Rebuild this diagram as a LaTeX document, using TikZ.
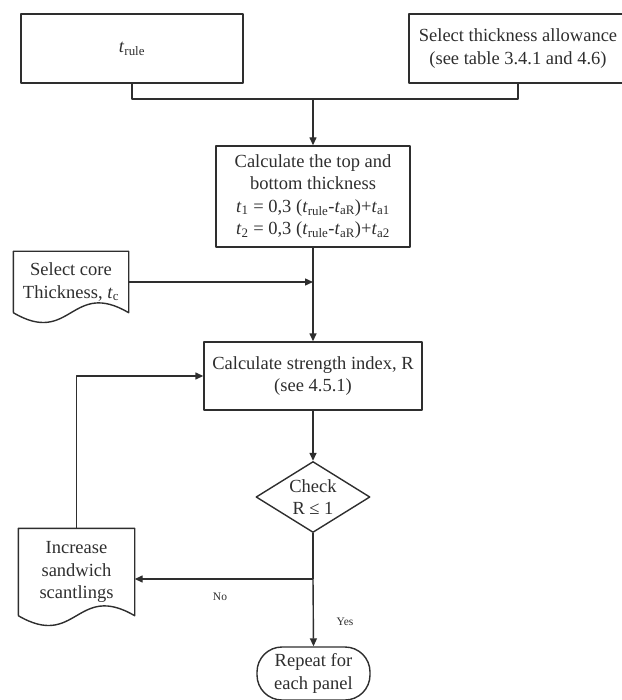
\documentclass[tikz,border=0pt]{standalone}
\usepackage{fontspec}
\setmainfont{Liberation Serif}
\usetikzlibrary{arrows.meta,shapes.geometric}
\definecolor{ink}{HTML}{2E2E2E}

\begin{document}
\begin{tikzpicture}[x=1pt, y=-1pt, line width=1.4pt, line join=round, color=ink,
  font=\fontsize{18.5}{22.5}\selectfont,
  box/.style={draw, align=center, inner sep=0pt},
  docbox/.style={align=center, inner sep=0pt},
  decide/.style={draw, diamond, aspect=1.6, align=center, inner sep=0pt},
  flow/.style={-{Triangle[length=8pt,width=7pt]}},
  tag/.style={font=\fontsize{11.5}{13}\selectfont}]

  % ── 顶部两个输入框 ──
  \node[box, minimum width=222pt, minimum height=69pt] (trule) at (132,48.5) {\textit{t}\textsubscript{rule}};
  \node[box, minimum width=218pt, minimum height=69pt] (allow) at (518,48.5)
    {Select thickness allowance\\(see table 3.4.1 and 4.6)};

  % ── 主干计算框 ──
  \node[box, minimum width=194pt, minimum height=101pt] (calc) at (313,196.5)
    {Calculate the top and\\bottom thickness\\
     \textit{t}\textsubscript{1} = 0,3 (\textit{t}\textsubscript{rule}-\textit{t}\textsubscript{aR})+\textit{t}\textsubscript{a1}\\
     \textit{t}\textsubscript{2} = 0,3 (\textit{t}\textsubscript{rule}-\textit{t}\textsubscript{aR})+\textit{t}\textsubscript{a2}};
  \node[box, minimum width=218pt, minimum height=68pt] (strength) at (313,376)
    {Calculate strength index, R\\(see 4.5.1)};
  \node[decide, minimum width=114pt, minimum height=71pt] (check) at (313,497) {Check\\R ≤ 1};
  \node[box, rounded corners=25pt, minimum width=113pt, minimum height=53pt] (term) at (313.5,673.5)
    {Repeat for\\each panel};

  % ── 两个文档形框（波浪底边另画）──
  \node[docbox, minimum width=114pt, minimum height=60pt] (core) at (71,282)
    {Select core\\Thickness, \textit{t}\textsubscript{c}};
  \node[docbox, minimum width=115pt, minimum height=86pt] (incr) at (76.5,572)
    {Increase\\sandwich\\scantlings};
  \foreach \n in {core,incr}
    \draw (\n.south west) -- (\n.north west) -- (\n.north east) -- (\n.south east)
      .. controls ([yshift=34pt]\n.south) and ([yshift=-34pt]\n.south) .. (\n.south west);

  % ── 连线 ──
  \coordinate (merge) at (313,99);
  \draw (trule.south) |- (merge) -| (allow.south);
  \draw[flow] (merge) -- (calc.north);
  \draw[flow] (calc.south) -- (strength.north);
  \draw[flow] (core.east) -- (core.east -| calc.south);
  \draw[flow] (strength.south) -- (check.north);

  \coordinate (split) at (313,579);
  \draw (check.south) -- (split);
  \draw[flow] (split) -- (split -| incr.east);
  \draw[flow] (split) -- (term.north);
  \draw[flow] (incr.north) |- (strength.west);

  \node[tag] (no) at (220,597) {No};
  \node[tag] (yes) at (345,622) {Yes};

  \pgfresetboundingbox
  \path[use as bounding box] (0,0) rectangle (621,700);
\end{tikzpicture}
\end{document}
